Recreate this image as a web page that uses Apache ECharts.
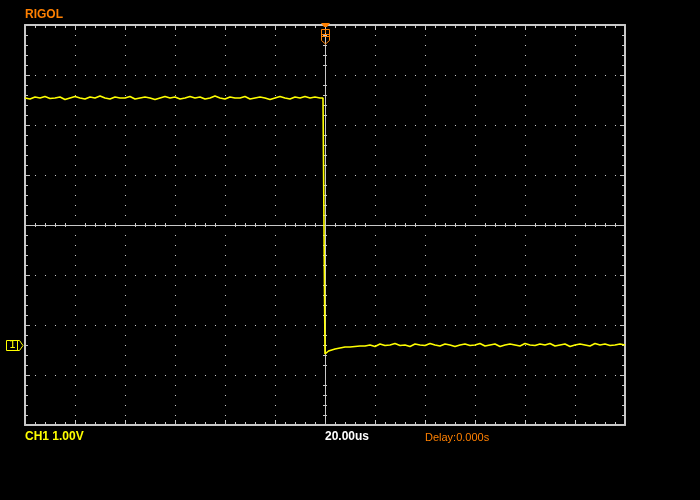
<!DOCTYPE html>
<html>
<head>
<meta charset="utf-8">
<script src="https://cdn.jsdelivr.net/npm/echarts@6/dist/echarts.min.js"></script>
<style>html,body{margin:0;padding:0;background:#000;}#c{width:700px;height:500px;}</style>
</head>
<body>
<div id="c"></div>
<script>
// Time base: 20 us/div, 12 divisions; vertical: 1.00 V/div, CH1 ground at 0 V
const sampleStep = 2; // us between samples
// Pre-trigger samples, t = -120 .. -2 us (V)
const preValues = [
  4.94,4.92,4.96,4.94,4.97,4.93,4.94,4.96,4.91,4.94,
  4.97,4.94,4.92,4.96,4.94,4.98,4.94,4.92,4.96,4.94,
  4.94,4.97,4.92,4.94,4.96,4.94,4.91,4.94,4.97,4.94,
  4.96,4.92,4.94,4.97,4.94,4.96,4.92,4.94,4.98,4.94,
  4.92,4.96,4.94,4.94,4.97,4.92,4.94,4.96,4.94,4.91,
  4.94,4.97,4.94,4.92,4.96,4.94,4.97,4.94,4.96,4.94
];
// Falling edge samples
const edgeTimes  = [-0.8, -0.4, 0, 0.8, 1.4];
const edgeValues = [4.94, 2.4, -0.18, -0.16, -0.12];
// Post-trigger samples, t = 2 .. 120 us (V)
const postValues = [
  -0.11,-0.08,-0.06,-0.04,-0.04,-0.03,-0.02,-0.02,
  0.0,-0.03,0.02,-0.01,0.0,0.03,-0.01,0.0,-0.03,0.02,
  0.0,-0.01,0.03,0.0,-0.02,0.02,0.0,-0.03,0.0,0.02,
  -0.01,0.0,0.03,-0.02,0.0,0.02,-0.03,0.0,0.02,0.0,
  -0.02,0.03,0.0,-0.01,0.02,0.0,0.03,-0.02,0.0,0.02,
  -0.03,0.0,0.02,0.0,-0.02,0.03,0.0,0.02,-0.01,0.0,
  0.02,0.0
];
// Axis ranges
const xMin = -120, xMax = 120, xInterval = 20;
const yMin = -1.6, yMax = 6.4, yInterval = 1;
// Text labels
const brandText = 'RIGOL';
const chText = 'CH1 1.00V';
const timeText = '20.00us';
const delayText = 'Delay:0.000s';

const data = [];
preValues.forEach((v, i) => data.push([xMin + i * sampleStep, v]));
edgeTimes.forEach((t, i) => data.push([t, edgeValues[i]]));
postValues.forEach((v, i) => data.push([sampleStep * (i + 1), v]));

const GRAY = '#c8c8c8';
const ORANGE = '#ff8000';
const YELLOW = '#ffff00';

function xAx(extra) {
  return Object.assign({
    type: 'value', min: xMin, max: xMax, interval: xInterval,
    axisLabel: {show: false}, splitLine: {show: false},
    axisLine: {show: true, onZero: false, lineStyle: {color: GRAY, width: 2}},
    axisTick: {show: true, inside: true, length: 5, lineStyle: {color: GRAY}},
    minorTick: {show: true, splitNumber: 5, length: 3, lineStyle: {color: GRAY}}
  }, extra);
}
function yAx(extra) {
  return Object.assign({
    type: 'value', min: yMin, max: yMax, interval: yInterval,
    axisLabel: {show: false}, splitLine: {show: false},
    axisLine: {show: true, onZero: false, lineStyle: {color: GRAY, width: 2}},
    axisTick: {show: true, inside: true, length: 5, lineStyle: {color: GRAY}},
    minorTick: {show: true, splitNumber: 5, length: 3, lineStyle: {color: GRAY}}
  }, extra);
}

const chart = echarts.init(document.getElementById('c'), null, {renderer: 'canvas'});
chart.setOption({
  backgroundColor: '#000',
  animation: false,
  grid: {left: 25, top: 25, width: 600, height: 400},
  xAxis: [
    xAx({position: 'bottom', splitLine: {show: true, lineStyle: {color: GRAY, width: 1, type: [1, 9]}}}),
    xAx({position: 'top'}),
    xAx({position: 'bottom', offset: -200, axisLine: {show: true, onZero: false, lineStyle: {color: GRAY, width: 1}},
         axisTick: {show: false}, minorTick: {show: true, splitNumber: 5, length: 2, lineStyle: {color: GRAY}}}),
    xAx({position: 'top', offset: -200, axisLine: {show: true, onZero: false, lineStyle: {color: GRAY, width: 1}},
         axisTick: {show: false}, minorTick: {show: true, splitNumber: 5, length: 2, lineStyle: {color: GRAY}}})
  ],
  yAxis: [
    yAx({position: 'left', splitLine: {show: true, lineStyle: {color: GRAY, width: 1, type: [1, 9]}}}),
    yAx({position: 'right'}),
    yAx({position: 'left', offset: -300, axisLine: {show: true, onZero: false, lineStyle: {color: GRAY, width: 1}},
         axisTick: {show: false}, minorTick: {show: true, splitNumber: 5, length: 2, lineStyle: {color: GRAY}}}),
    yAx({position: 'right', offset: -300, axisLine: {show: true, onZero: false, lineStyle: {color: GRAY, width: 1}},
         axisTick: {show: false}, minorTick: {show: true, splitNumber: 5, length: 2, lineStyle: {color: GRAY}}})
  ],
  series: [{
    type: 'line', xAxisIndex: 0, yAxisIndex: 0, data: data,
    showSymbol: false, symbol: 'none', clip: true, z: 10,
    lineStyle: {color: YELLOW, width: 1.6}
  }],
  graphic: [
    {type: 'text', left: 25, top: 9, style: {text: brandText, fill: ORANGE, font: 'bold 12px "Liberation Sans", Arial'}},
    {type: 'text', left: 25, top: 431, style: {text: chText, fill: YELLOW, font: 'bold 12px "Liberation Sans", Arial'}},
    {type: 'text', left: 325, top: 431, style: {text: timeText, fill: '#ffffff', font: 'bold 12px "Liberation Sans", Arial'}},
    {type: 'text', left: 425, top: 432, style: {text: delayText, fill: ORANGE, font: '11px "Liberation Sans", Arial'}},
    // trigger position marker
    {type: 'polygon', shape: {points: [[321,23],[330,23],[327,27],[324,27]]}, style: {fill: ORANGE}, z: 20},
    {type: 'polygon', shape: {points: [[321.5,29.5],[329.5,29.5],[329.5,40.5],[325.5,44],[321.5,40.5]]}, style: {fill: 'none', stroke: ORANGE, lineWidth: 1}, z: 20},
    {type: 'line', shape: {x1: 325.5, y1: 30, x2: 325.5, y2: 33}, style: {stroke: ORANGE, lineWidth: 1}, z: 20},
    {type: 'line', shape: {x1: 322, y1: 34.5, x2: 329, y2: 34.5}, style: {stroke: ORANGE, lineWidth: 1}, z: 20},
    {type: 'line', shape: {x1: 322, y1: 36.5, x2: 329, y2: 36.5}, style: {stroke: ORANGE, lineWidth: 1}, z: 20},
    // channel 1 ground marker
    {type: 'polygon', shape: {points: [[6.5,340.5],[19.5,340.5],[23,345.5],[19.5,350.5],[6.5,350.5]]}, style: {fill: 'none', stroke: YELLOW, lineWidth: 1}, z: 20},
    {type: 'line', shape: {x1: 17.5, y1: 341, x2: 17.5, y2: 350}, style: {stroke: YELLOW, lineWidth: 1}, z: 20},
    {type: 'text', left: 9, top: 340, style: {text: '1', fill: YELLOW, font: '11px "DejaVu Sans Mono", monospace'}, z: 20}
  ]
});
</script>
</body>
</html>
